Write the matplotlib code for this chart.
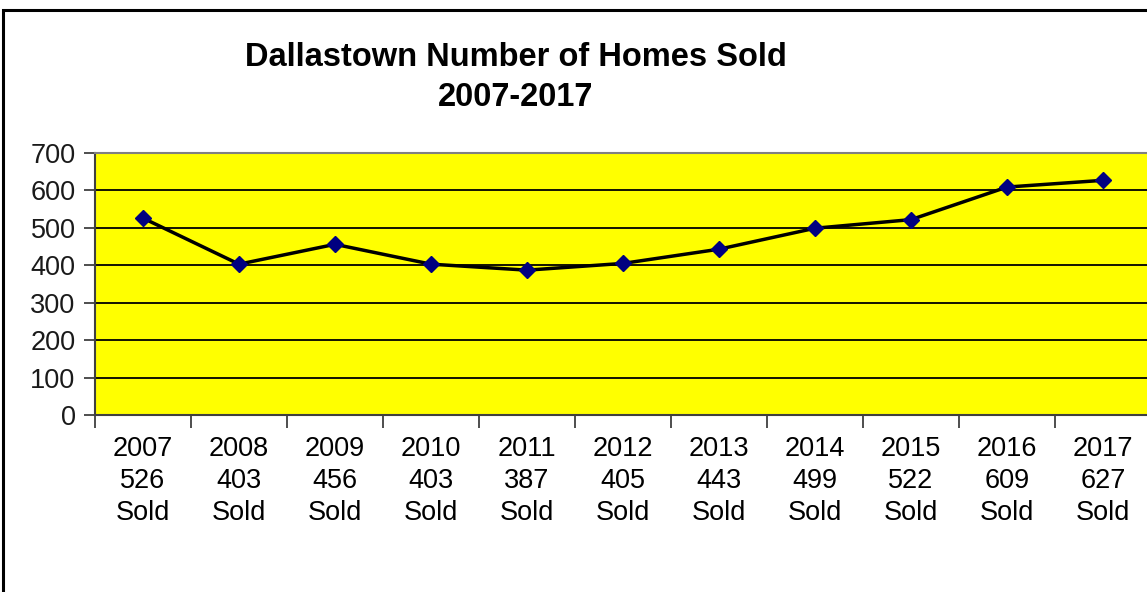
import matplotlib
matplotlib.use("Agg")
import matplotlib.pyplot as plt
from matplotlib.patches import Rectangle
import numpy as np

years = [2007, 2008, 2009, 2010, 2011, 2012, 2013, 2014, 2015, 2016, 2017]
sold = [526, 403, 456, 403, 387, 405, 443, 499, 522, 609, 627]
yticks = [0, 100, 200, 300, 400, 500, 600, 700]
title_lines = ["Dallastown Number of Homes Sold", "2007-2017"]

plt.rcParams['font.family'] = ['Liberation Sans', 'DejaVu Sans']

W, H = 1147, 592
fig = plt.figure(figsize=(W / 100, H / 100), dpi=100)
fig.patch.set_facecolor('white')

# outer border (partly clipped on right/bottom in the reference)
fig.add_artist(Rectangle((2.5 / W, -0.05), 1.2, 1 - 9.5 / H + 0.05,
                         transform=fig.transFigure, fill=False,
                         edgecolor='black', linewidth=2.2, zorder=10))

left, right, top, bottom = 95, 1151, 153, 415
ax = fig.add_axes([left / W, 1 - bottom / H, (right - left) / W, (bottom - top) / H])
ax.set_facecolor('#FFFF00')

x = np.arange(len(years))
ax.set_xlim(-0.5, len(years) - 0.5)
ax.set_ylim(0, 700)

for yv in yticks[1:-1]:
    ax.axhline(yv, color='black', linewidth=1.3, zorder=1)

ax.plot(x, sold, color='black', linewidth=2.5, zorder=3,
        marker='D', markersize=8.5, markerfacecolor='#000080',
        markeredgecolor='#000080')

for s in ['top', 'right']:
    ax.spines[s].set_color('#808080')
    ax.spines[s].set_linewidth(1.5)
for s in ['left', 'bottom']:
    ax.spines[s].set_color('#404040')
    ax.spines[s].set_linewidth(1.5)

ax.set_yticks(yticks)
ax.set_yticklabels([str(v) for v in yticks], fontsize=19.5, color='#1a1a1a')
ax.tick_params(axis='y', length=8, width=1.3, color='#404040', pad=6)

ax.set_xticks(x)
ax.set_xticklabels([f"{y}\n{s}\nSold" for y, s in zip(years, sold)],
                   fontsize=19.5, linespacing=1.3)
ax.tick_params(axis='x', which='major', length=0, pad=15)
ax.set_xticks(np.arange(len(years) + 1) - 0.5, minor=True)
ax.tick_params(axis='x', which='minor', length=9, width=1.3, color='#404040')

fig.text(516 / W, 1 - 58 / H, title_lines[0], ha='center', va='center',
         fontsize=23.5, fontweight='bold')
fig.text(516 / W, 1 - 98 / H, title_lines[1], ha='center', va='center',
         fontsize=23.5, fontweight='bold')

fig.savefig('out.png', dpi=100, facecolor='white')
